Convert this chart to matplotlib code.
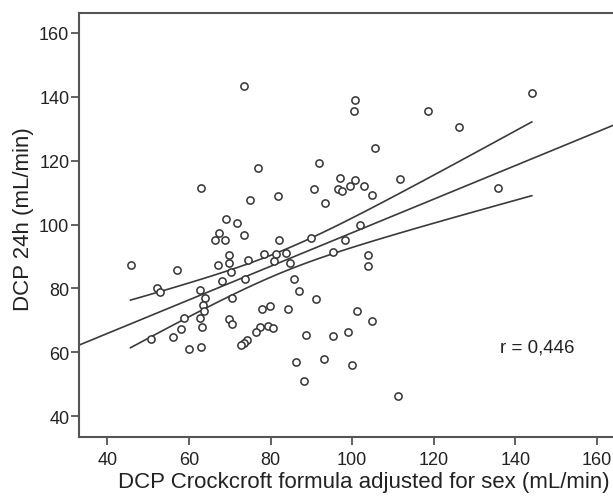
import numpy as np
import matplotlib
matplotlib.use("Agg")
import matplotlib.pyplot as plt

# DCP Crockcroft (sex adjusted) vs DCP 24h
dcp_cg = [73.5, 63.0, 76.9, 74.9, 81.9, 91.8, 90.6, 93.3, 69.2, 71.8,
          67.5, 66.3, 68.8, 73.5, 82.0, 90.0, 144.0, 100.6, 100.5, 118.6,
          126.1, 105.7, 96.9, 100.8, 111.7, 96.5, 97.5, 99.4, 102.8, 104.8,
          135.7, 101.9, 98.2, 45.7, 57.2, 52.2, 53.0, 67.2, 69.8, 69.9,
          70.4, 68.0, 74.5, 73.8, 78.3, 81.3, 80.8, 83.7, 84.8, 62.7,
          63.9, 63.5, 63.6, 62.8, 63.1, 58.7, 58.0, 56.2, 50.8, 60.0,
          63.0, 70.6, 69.9, 70.6, 77.9, 79.8, 84.2, 85.8, 87.0, 91.2,
          77.5, 76.5, 79.3, 80.7, 74.3, 73.5, 72.8, 88.7, 86.2, 88.3,
          93.0, 95.4, 95.3, 104.0, 104.0, 101.3, 104.8, 99.0, 99.9, 111.2]
dcp_24h = [143.3, 111.5, 117.6, 107.8, 108.8, 119.3, 111.1, 106.8, 101.8, 100.5,
           97.4, 95.3, 95.3, 96.8, 95.3, 95.9, 141.1, 139.1, 135.5, 135.5,
           130.5, 124.1, 114.7, 113.8, 114.4, 111.1, 110.4, 112.1, 112.0, 109.3,
           111.5, 99.8, 95.3, 87.5, 85.8, 80.2, 79.0, 87.4, 90.6, 87.9,
           85.2, 82.4, 88.9, 83.0, 90.8, 90.9, 88.6, 91.2, 88.0, 79.5,
           77.0, 74.9, 73.1, 70.8, 68.1, 70.8, 67.2, 64.9, 64.1, 61.2,
           61.6, 77.0, 70.3, 69.0, 73.7, 74.6, 73.7, 82.9, 79.3, 76.6,
           67.9, 66.3, 68.4, 67.5, 64.0, 63.0, 62.3, 65.3, 57.0, 51.2,
           58.0, 65.1, 91.4, 90.4, 87.0, 72.8, 69.8, 66.3, 56.2, 46.4]
x_ticks = [40, 60, 80, 100, 120, 140, 160]
y_ticks = [40, 60, 80, 100, 120, 140, 160]
r_label = "r = 0,446"

x = np.array(dcp_cg)
y = np.array(dcp_24h)
n = len(x)

# linear fit + confidence band of the mean
slope, icpt = np.polyfit(x, y, 1)
resid = y - (icpt + slope * x)
s = np.sqrt(np.sum(resid ** 2) / (n - 2))
sxx = np.sum((x - x.mean()) ** 2)
t_crit = 1.6  # band in the original is narrower than a plain 95% band of these points

plt.rcParams['font.family'] = ['Liberation Sans', 'DejaVu Sans']
fig = plt.figure(figsize=(6.13, 5.02), dpi=100)
ax = fig.add_axes([0.129, 0.128, 0.871, 0.844])
ax.set_xlim(33.1, 163.9)
ax.set_ylim(33.6, 166.2)

line_col = '#3a3a3a'
xl = np.linspace(33.1, 163.9, 50)
ax.plot(xl, icpt + slope * xl, color=line_col, lw=1.2)
xc = np.linspace(x.min(), x.max(), 50)
half = t_crit * s * np.sqrt(1 / n + (xc - x.mean()) ** 2 / sxx)
ax.plot(xc, icpt + slope * xc + half, color=line_col, lw=1.2)
ax.plot(xc, icpt + slope * xc - half, color=line_col, lw=1.2)

ax.plot(x, y, 'o', ms=5.2, mfc='white', mec='#333333', mew=1.1, ls='none')

ax.text(136.1, 61.8, r_label, fontsize=13.5, color='#222222', va='center', ha='left')

ax.set_xticks(x_ticks)
ax.set_yticks(y_ticks)
ax.tick_params(axis='both', labelsize=13, colors='#555555', labelcolor='#222222',
               length=6, width=1.3)
ax.tick_params(axis='y', pad=1)
ax.tick_params(axis='x', pad=4)
for side in ['left', 'bottom', 'top']:
    ax.spines[side].set_color('#555555')
    ax.spines[side].set_linewidth(1.5)
ax.spines['right'].set_visible(False)

fig.text(24 / 613, 1 - 219 / 502, 'DCP 24h (mL/min)', rotation=90, fontsize=16,
         ha='center', va='center', color='#222222')
fig.text(364 / 613, 1 - 483 / 502, 'DCP Crockcroft formula adjusted for sex (mL/min)',
         fontsize=16, ha='center', va='center', color='#222222')

fig.savefig('out.png', dpi=100)
